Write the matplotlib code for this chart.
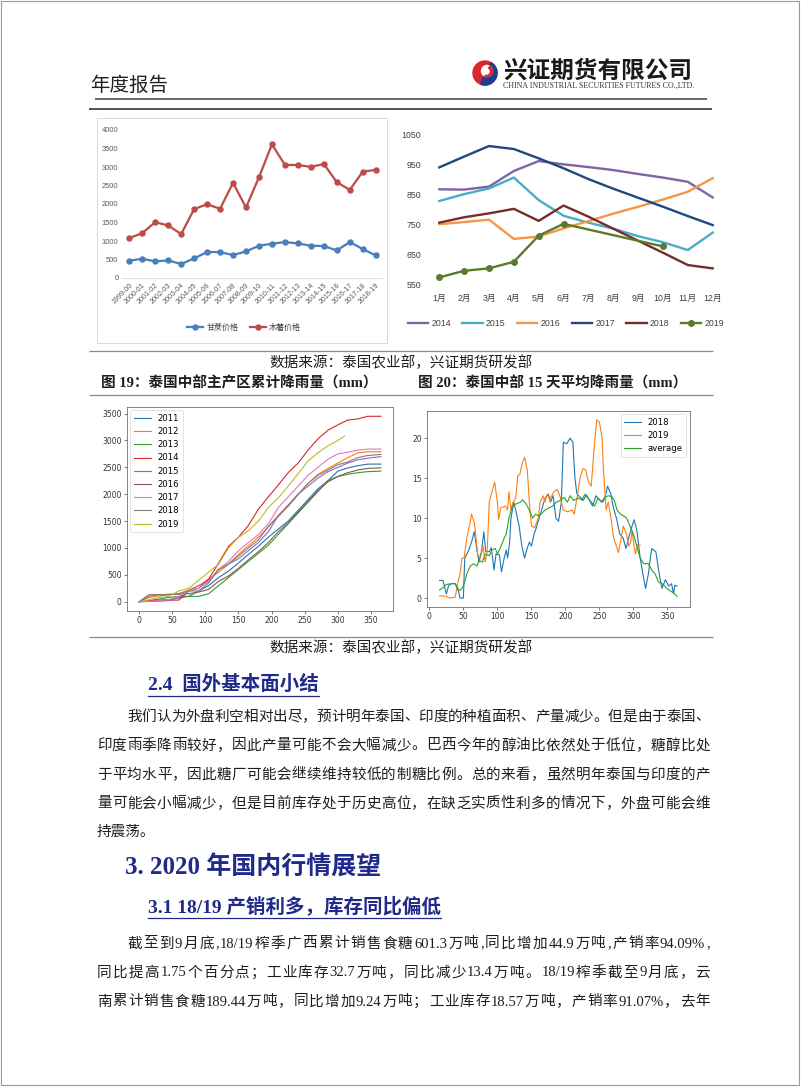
import re
import numpy as np
import matplotlib
matplotlib.use('Agg')
import matplotlib.pyplot as plt
from matplotlib.patches import Circle, Wedge, Rectangle

W, H = 802, 1087
SERIF_CJK = ['Liberation Serif', 'Noto Sans CJK SC']
SANS_CJK = ['Liberation Sans', 'Noto Sans CJK SC']
plt.rcParams['font.family'] = ['DejaVu Sans', 'Noto Sans CJK SC']

# ---------------- chart 1: sugarcane vs cassava price ----------------
seasons = ['1999-00', '2000-01', '2001-02', '2002-03', '2003-04', '2004-05', '2005-06',
           '2006-07', '2007-08', '2008-09', '2009-10', '2010-11', '2011-12', '2012-13',
           '2013-14', '2014-15', '2015-16', '2016-17', '2017-18', '2018-19']
cane_price = [467, 521, 449, 476, 378, 530, 701, 701, 620, 719, 872, 926, 971, 935,
              872, 863, 746, 971, 782, 611]
cassava_price = [1079, 1213, 1510, 1420, 1187, 1861, 1996, 1870, 2571, 1906, 2724, 3613,
                 3056, 3056, 3002, 3083, 2589, 2382, 2876, 2921]

# ---------------- chart 2: monthly series ----------------
months = ['1月', '2月', '3月', '4月', '5月', '6月', '7月', '8月', '9月', '10月', '11月', '12月']
m2014 = [866, 865, 875, 927, 960, 949, 940, 930, 917, 905, 891, 839]
m2015 = [827, 850, 869, 905, 830, 778, 755, 735, 710, 690, 664, 722]
m2016 = [750, 757, 765, 701, 709, 736, 760, 785, 808, 832, 858, 903]
m2017 = [939, 975, 1010, 1000, 969, 936, 900, 868, 838, 808, 777, 747]
m2018 = [755, 773, 786, 801, 761, 812, 775, 735, 695, 655, 614, 603]
m2019 = [573, 595, 603, 625, 712, 751, None, None, None, 676, None, None]

# ---------------- chart 3: cumulative rainfall ----------------
cum_days = [0, 15, 30, 45, 60, 75, 90, 105, 120, 135, 150, 165, 180, 195, 210, 225,
            240, 255, 270, 285, 300, 315, 330, 345, 365]
cum2011 = [0, 10, 20, 40, 70, 100, 200, 300, 450, 570, 720, 880, 1030, 1200, 1350, 1500,
           1700, 1900, 2100, 2250, 2430, 2490, 2530, 2560, 2560]
cum2012 = [0, 80, 110, 130, 150, 220, 300, 420, 550, 700, 880, 1040, 1200, 1390, 1580, 1780,
           1990, 2200, 2370, 2480, 2580, 2680, 2770, 2790, 2790]
cum2013 = [0, 20, 50, 80, 100, 100, 100, 150, 300, 450, 600, 750, 900, 1050, 1250, 1450,
           1650, 1850, 2050, 2250, 2330, 2370, 2400, 2420, 2430]
cum2014 = [0, 20, 30, 30, 30, 200, 250, 420, 720, 1030, 1200, 1420, 1720, 1950, 2170, 2400,
           2580, 2820, 3030, 3190, 3290, 3380, 3400, 3450, 3450]
cum2015 = [0, 5, 10, 20, 80, 200, 300, 380, 600, 700, 800, 950, 1100, 1300, 1600, 1780,
           2000, 2150, 2300, 2420, 2500, 2580, 2640, 2670, 2700]
cum2016 = [0, 130, 130, 130, 140, 150, 180, 230, 380, 480, 620, 780, 930, 1100, 1300, 1470,
           1670, 1870, 2070, 2230, 2330, 2400, 2450, 2480, 2490]
cum2017 = [0, 10, 20, 40, 100, 200, 250, 380, 600, 750, 950, 1100, 1250, 1450, 1750, 1950,
           2150, 2350, 2500, 2650, 2750, 2780, 2820, 2840, 2840]
cum2018 = [0, 100, 130, 140, 150, 200, 200, 350, 600, 700, 850, 1000, 1150, 1400, 1600, 1800,
           2000, 2200, 2350, 2450, 2550, 2600, 2680, 2720, 2740]
cum_days_2019 = [0, 15, 30, 45, 60, 75, 90, 105, 120, 135, 150, 165, 180, 195, 210, 225,
                 240, 255, 270, 285, 300, 310]
cum2019 = [0, 40, 80, 100, 200, 250, 400, 550, 700, 1000, 1200, 1320, 1500, 1750, 1930, 2150,
           2380, 2620, 2770, 2900, 3000, 3080]
cum_years = ['2011', '2012', '2013', '2014', '2015', '2016', '2017', '2018', '2019']

# ---------------- chart 4: 15-day average rainfall ----------------
d2018 = [15, 20, 25, 28, 32, 38, 42, 45, 50, 52, 58, 62, 66, 70, 73, 77, 80, 83, 88, 91,
         93, 95, 98, 103, 106, 110, 113, 115, 118, 120, 124, 127, 132, 136, 140, 143, 147, 150, 154, 158,
         165, 170, 175, 178, 182, 186, 190, 194, 197, 202, 207, 211, 214, 217, 222, 226, 231, 235, 240, 245,
         250, 255, 258, 262, 267, 270, 275, 280, 285, 289, 293, 298, 301, 305, 310, 315, 318, 322, 325, 327,
         333, 338, 342, 347, 352, 356, 359, 361, 364]
r2018 = [2.2, 2.2, 0.5, 1.5, 1.8, 1.8, 1.2, 0, 0, 5, 6, 7, 8.3, 6, 4.5, 6, 8.3, 5.8, 5.8, 6.3,
         5, 3.5, 5.5, 5.4, 3.3, 5, 6, 5, 7, 10, 12, 11, 9, 6.5, 5, 6, 7, 6.5, 8, 9,
         11, 12.5, 13, 12, 12.8, 10, 9.6, 12, 19.5, 19.3, 20, 19.5, 15, 13, 12.6, 12.2, 12.9, 12.3, 11.5, 12.8,
         12.3, 12, 12.5, 14, 13, 11.5, 10, 8, 7.5, 6.2, 7.5, 9, 9.8, 8.5, 5, 2.5, 1.2, 3, 5, 6.2,
         5.8, 3, 1.2, 2.3, 1.5, 1.8, 0.6, 1.6, 1.5]
d2019 = [15, 25, 30, 38, 42, 45, 48, 51, 55, 60, 62, 66, 68, 71, 75, 79, 82, 85, 88, 91,
         96, 100, 102, 105, 112, 115, 117, 120, 123, 127, 130, 133, 137, 140, 144, 147, 150, 155, 160, 163,
         167, 170, 173, 177, 183, 188, 193, 197, 203, 210, 213, 218, 222, 226, 230, 234, 238, 242, 246, 250,
         254, 256, 260, 263, 267, 271, 275, 278, 282, 285, 290, 293, 296, 298, 301, 303, 306, 310]
r2019 = [0.3, 0.2, 0, 0.1, 2, 3, 5, 5, 7.5, 9.5, 10.5, 9.5, 8, 5.5, 5, 6.5, 4.5, 5.8, 12, 13,
         14.5, 12, 9.8, 11.3, 11.5, 11, 13.3, 11, 12, 12.5, 15.3, 15.5, 17, 17.6, 16, 12, 9, 8.8, 10, 12,
         12.8, 12, 13, 12.3, 13.3, 13.6, 12.5, 11, 10.8, 11, 10.5, 13, 15.2, 16.2, 16, 14.5, 14, 18.5, 22.3, 22,
         20, 16, 11, 12, 10, 7.5, 6.5, 5.7, 7.5, 9, 8, 6.5, 7, 8.5, 6.5, 5.5, 6.7, 6.6]
d_avg = [15, 20, 25, 33, 38, 42, 46, 50, 55, 60, 65, 70, 73, 78, 82, 88, 92, 97, 100, 104,
         110, 113, 117, 122, 128, 134, 137, 142, 147, 152, 156, 160, 164, 170, 176, 181, 187, 192, 198, 203,
         207, 212, 218, 224, 229, 233, 238, 243, 248, 253, 258, 263, 268, 272, 276, 281, 285, 290, 295, 300,
         305, 310, 315, 322, 327, 332, 337, 342, 348, 354, 360, 364]
r_avg = [1.0, 1.3, 1.7, 1.8, 1.8, 1.0, 1.0, 1.5, 3, 4, 4.3, 4, 4.7, 4.5, 5.5, 5.3, 6, 6.2, 5.5, 6.2,
         7.5, 8, 10, 11.5, 11.8, 12, 12.3, 11.8, 11, 10, 10.5, 10.3, 10.5, 11, 11.3, 11.5, 12, 12.2, 12.6, 12,
         12.8, 12.2, 12.5, 12.3, 13, 12.5, 12, 11.5, 12.5, 12, 12.6, 12.8, 12.7, 12.2, 11, 10.5, 10.3, 10, 9, 8,
         6.5, 5, 4.3, 4.3, 3.5, 3, 2, 1.8, 1.3, 0.9, 0.6, 0.2]

# ---------------- page text ----------------
para1 = ["我们认为外盘利空相对出尽，预计明年泰国、印度的种植面积、产量减少。但是由于泰国、",
         "印度雨季降雨较好，因此产量可能不会大幅减少。巴西今年的醇油比依然处于低位，糖醇比处",
         "于平均水平，因此糖厂可能会继续维持较低的制糖比例。总的来看，虽然明年泰国与印度的产",
         "量可能会小幅减少，但是目前库存处于历史高位，在缺乏实质性利多的情况下，外盘可能会维",
         "持震荡。"]
para2 = ["截至到9月底,18/19榨季广西累计销售食糖601.3万吨,同比增加44.9万吨,产销率94.09%,",
         "同比提高1.75个百分点；工业库存32.7万吨，同比减少13.4万吨。18/19榨季截至9月底，云",
         "南累计销售食糖189.44万吨，同比增加9.24万吨；工业库存18.57万吨，产销率91.07%，去年"]

TEXT = '#1e1e1e'
BLUE = '#1F2A8A'

fig = plt.figure(figsize=(W / 100, H / 100), dpi=100)
fig.patch.set_facecolor('white')
ov = fig.add_axes([0, 0, 1, 1])
ov.set_xlim(0, W)
ov.set_ylim(H, 0)
ov.axis('off')
renderer = fig.canvas.get_renderer()


def px_axes(x0, y0, x1, y1):
    return fig.add_axes([x0 / W, 1 - y1 / H, (x1 - x0) / W, (y1 - y0) / H])


def hline(y, x0, x1, color, lw):
    ov.plot([x0, x1], [y, y], color=color, lw=lw, solid_capstyle='butt')


TOK = re.compile(r'[A-Za-z0-9.%/]+|\S')


def body_line(line, y, x0, x1, justify=True, fs=10.5):
    if not justify:
        ov.text(x0, y, line, fontsize=fs, family=SERIF_CJK, color=TEXT, va='center', ha='left')
        return
    toks = TOK.findall(line)
    ts = [ov.text(0, y, t, fontsize=fs, family=SERIF_CJK, color=TEXT, va='center', ha='left')
          for t in toks]
    ws = [t.get_window_extent(renderer).width for t in ts]
    gap = (x1 - x0 - sum(ws)) / (len(toks) - 1)
    x = x0
    for t, w in zip(ts, ws):
        t.set_x(x)
        x += w + gap


def heading(s, x, y, fs, underline):
    t = ov.text(x, y, s, fontsize=fs, family=SERIF_CJK, weight='bold', color=BLUE,
                va='center', ha='left')
    if underline:
        bb = t.get_window_extent(renderer)
        uy = y + fs * 100 / 72 * 0.62
        ov.plot([x, x + bb.width], [uy, uy], color=BLUE, lw=0.9)


# page border
ov.add_patch(Rectangle((1, 1), 798, 1084, fill=False, edgecolor='#9a9a9a', lw=0.8))

# header
ov.text(90, 85, '年度报告', fontsize=14, family=['Noto Sans CJK SC'], color='#222222',
        va='center', ha='left')
ov.add_patch(Circle((485, 73), 12, color='#D8262E', zorder=3))
ov.add_patch(Wedge((485, 73), 12, -60, 110, color='#1C3F94', zorder=3))
ov.add_patch(Circle((487, 71), 5.5, color='white', zorder=4))
ov.add_patch(Wedge((487, 71), 5.5, -60, 110, color='#D8262E', zorder=4))
ov.add_patch(Circle((486.5, 71.5), 2.6, color='white', zorder=5))
ov.text(503, 71, '兴证期货有限公司', fontsize=17, family=['Noto Sans CJK SC'], weight='bold',
        color='#1a1a1a', va='center', ha='left')
en = ov.text(503, 86, 'CHINA INDUSTRIAL SECURITIES FUTURES CO.,LTD.', fontsize=5,
             family=['Liberation Serif'], color='#333333', va='center', ha='left')
ew = en.get_window_extent(renderer).width
en.set_fontsize(5 * 190 / ew)
hline(99, 95, 707, '#6a6a6a', 1.4)
hline(109, 89, 712, '#222222', 1.1)

# ---------- chart 1 ----------
ov.add_patch(Rectangle((96.7, 118), 290, 224.7, fill=False, edgecolor='#d9d9d9', lw=0.7))
ax1 = px_axes(122, 130, 383, 278)
xi = np.arange(len(seasons))
l_cane, = ax1.plot(xi, cane_price, color='#4A7EBB', lw=1.6, marker='o', ms=3.6, label='甘蔗价格')
l_cas, = ax1.plot(xi, cassava_price, color='#BE4B48', lw=1.6, marker='o', ms=3.6, label='木薯价格')
ax1.set_xlim(-0.56, 19.56)
ax1.set_ylim(0, 4000)
ax1.set_yticks(range(0, 4001, 500))
ax1.set_xticks(xi)
ax1.set_xticklabels(seasons, rotation=45, ha='right', rotation_mode='anchor')
ax1.tick_params(axis='y', length=0, labelsize=5.4, colors='#595959', pad=2.6)
ax1.tick_params(axis='x', length=0, labelsize=5.1, colors='#595959', pad=3)
for s in ['top', 'right', 'left']:
    ax1.spines[s].set_visible(False)
ax1.spines['bottom'].set_color('#d9d9d9')
ax1.spines['bottom'].set_linewidth(0.6)
for t in ax1.get_xticklabels() + ax1.get_yticklabels():
    t.set_fontfamily(SANS_CJK)
fig.legend(handles=[l_cane, l_cas], loc='center', bbox_to_anchor=(244 / W, 1 - 328 / H),
           ncol=2, frameon=False, prop={'family': SANS_CJK, 'size': 5.8},
           handlelength=2.0, columnspacing=1.4, handletextpad=0.4, labelcolor='#404040')

# ---------- chart 2 ----------
ax2 = px_axes(426.9, 134, 725.1, 284.3)
mi = np.arange(12)
series2 = [('2014', m2014, '#8064A2'), ('2015', m2015, '#4BACC6'), ('2016', m2016, '#F79646'),
           ('2017', m2017, '#1F497D'), ('2018', m2018, '#772C2A')]
handles2 = []
for name, vals, col in series2:
    h, = ax2.plot(mi, vals, color=col, lw=1.7, label=name)
    handles2.append(h)
v19 = np.array([np.nan if v is None else v for v in m2019], dtype=float)
ok = ~np.isnan(v19)
h19, = ax2.plot(mi[ok], v19[ok], color='#5A7A2C', lw=1.7, marker='o', ms=4, label='2019')
handles2.append(h19)
ax2.set_xlim(-0.5, 11.5)
ax2.set_ylim(550, 1050)
ax2.set_yticks(range(550, 1051, 100))
ax2.set_xticks(mi)
ax2.set_xticklabels(months)
ax2.tick_params(axis='y', length=0, labelsize=6.3, colors='#404040', pad=4.3)
ax2.tick_params(axis='x', length=0, labelsize=6.3, colors='#404040', pad=7)
for s in ax2.spines.values():
    s.set_visible(False)
for t in ax2.get_xticklabels() + ax2.get_yticklabels():
    t.set_fontfamily(SANS_CJK)
fig.legend(handles=handles2, loc='center', bbox_to_anchor=(566 / W, 1 - 324 / H),
           ncol=6, frameon=False, prop={'family': SANS_CJK, 'size': 6.3},
           handlelength=2.3, columnspacing=1.3, handletextpad=0.4, labelcolor='#404040')

# ---------- captions / rules ----------
hline(351, 89, 713, '#8a8a8a', 0.9)
ov.text(401, 363, '数据来源：泰国农业部，兴证期货研发部', fontsize=10.5, family=SERIF_CJK,
        color=TEXT, va='center', ha='center')
ov.text(101, 383, '图 19：泰国中部主产区累计降雨量（mm）', fontsize=10.5, family=SERIF_CJK,
        weight='bold', color=TEXT, va='center', ha='left')
ov.text(417.5, 383, '图 20：泰国中部 15 天平均降雨量（mm）', fontsize=10.5, family=SERIF_CJK,
        weight='bold', color=TEXT, va='center', ha='left')
hline(395, 89, 713, '#8a8a8a', 0.9)
hline(637, 89, 713, '#8a8a8a', 0.9)
ov.text(401, 648, '数据来源：泰国农业部，兴证期货研发部', fontsize=10.5, family=SERIF_CJK,
        color=TEXT, va='center', ha='center')


def mpl_style(ax):
    ax.tick_params(labelsize=5.5, length=1.9, width=0.45, pad=1.9, colors='#333333')
    for s in ax.spines.values():
        s.set_linewidth(0.45)
        s.set_color('#444444')


# ---------- chart 3 ----------
ax3 = px_axes(127, 407, 393, 611)
cum_series = [cum2011, cum2012, cum2013, cum2014, cum2015, cum2016, cum2017, cum2018, cum2019]
for i, (yr, vals) in enumerate(zip(cum_years, cum_series)):
    days = cum_days_2019 if yr == '2019' else cum_days
    ax3.plot(days, vals, color='C%d' % i, lw=0.8, label=yr)
ax3.set_xlim(-18.25, 383.25)
ax3.set_ylim(-172.5, 3622.5)
ax3.set_xticks(range(0, 351, 50))
ax3.set_yticks(range(0, 3501, 500))
mpl_style(ax3)
lg3 = ax3.legend(loc='upper left', fontsize=6.1, borderaxespad=0.4)
lg3.get_frame().set_linewidth(0.5)

# ---------- chart 4 ----------
ax4 = px_axes(427, 411, 689.5, 607)
ax4.plot(d2018, r2018, color='C0', lw=0.8, label='2018')
ax4.plot(d2019, r2019, color='C1', lw=0.8, label='2019')
ax4.plot(d_avg, r_avg, color='C2', lw=0.8, label='average')
ax4.set_xlim(-3.5, 382.5)
ax4.set_ylim(-1.12, 23.4)
ax4.set_xticks(range(0, 351, 50))
ax4.set_yticks(range(0, 21, 5))
mpl_style(ax4)
lg4 = ax4.legend(loc='upper right', fontsize=6.1, borderaxespad=0.4)
lg4.get_frame().set_linewidth(0.5)

# ---------- section 2.4 ----------
heading('2.4  国外基本面小结', 148, 684, 14, True)
ys1 = [717, 746, 775, 804, 832]
for k, (line, y) in enumerate(zip(para1, ys1)):
    x0 = 127 if k == 0 else 97
    body_line(line, y, x0, 710, justify=(k < len(para1) - 1))

heading('3. 2020 年国内行情展望', 125, 868, 18, False)
heading('3.1 18/19 产销利多，库存同比偏低', 148, 906, 14, True)
ys2 = [944, 973, 1002]
for k, (line, y) in enumerate(zip(para2, ys2)):
    x0 = 127 if k == 0 else 97
    body_line(line, y, x0, 710, justify=True)

fig.savefig('out.png', dpi=100, facecolor='white')
